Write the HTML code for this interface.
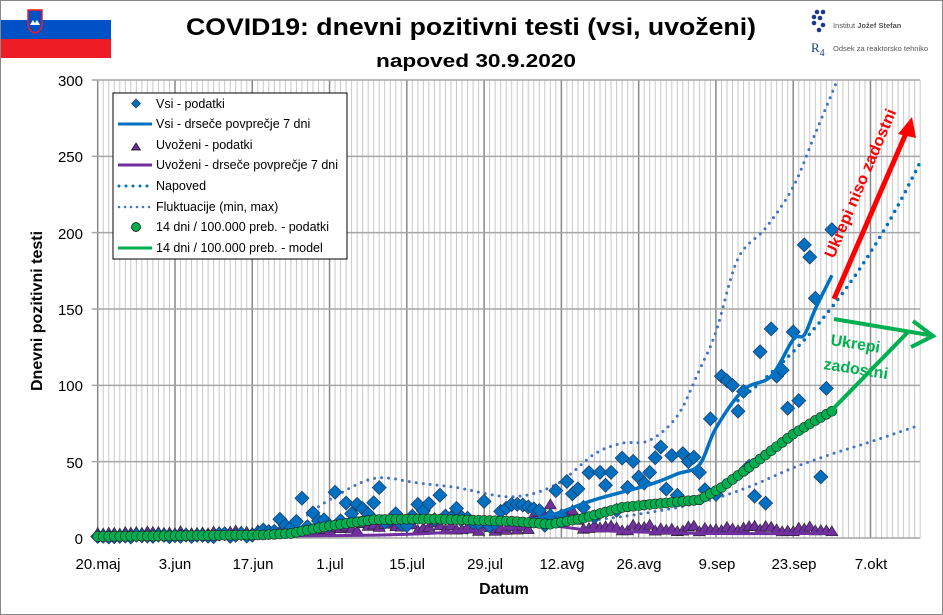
<!DOCTYPE html>
<html><head><meta charset="utf-8"><style>
body{margin:0;background:#fff}
#c{position:relative;width:943px;height:615px;overflow:hidden;font-family:"Liberation Sans",sans-serif;box-sizing:border-box;border:1px solid #888}
</style></head><body><div id="c">
<svg id="s" width="943" height="615" xmlns="http://www.w3.org/2000/svg" style="position:absolute;left:0;top:0">
<g id="grid"></g>
<g id="series"></g>
<!-- flag -->
<rect x="0" y="0" width="110" height="19" fill="#fff"/>
<rect x="0" y="19" width="110" height="19" fill="#0051c6"/>
<rect x="0" y="38" width="110" height="19" fill="#ee1c25"/>
<path d="M27 9 h14 v14 q0 7 -7 9 q-7 -2 -7 -9z" fill="#0051c6" stroke="#ee1c25" stroke-width="1.5"/>
<path d="M29 24 l3 -5 l2 3 l2 -3 l3 5z" fill="#fff"/>
<text x="470" y="34" text-anchor="middle" font-size="24" font-weight="bold" textLength="570" lengthAdjust="spacingAndGlyphs">COVID19: dnevni pozitivni testi (vsi, uvoženi)</text>
<text x="475" y="66" text-anchor="middle" font-size="18" font-weight="bold" textLength="200" lengthAdjust="spacingAndGlyphs">napoved 30.9.2020</text>
<!-- logos -->
<g fill="#1b3a8c"><circle cx="816" cy="11" r="2.3"/><circle cx="822" cy="11" r="2.3"/><circle cx="813" cy="16" r="2.3"/><circle cx="819" cy="17" r="2.3"/><circle cx="813" cy="22" r="2.3"/><circle cx="822" cy="24" r="2.3"/><circle cx="818" cy="29" r="2.3"/></g>
<text x="832" y="27" font-size="7.5" fill="#555">Institut <tspan font-weight="bold">Jožef Stefan</tspan></text>
<text x="810" y="51" font-size="13" fill="#1b3a8c" font-family="Liberation Serif,serif">R<tspan font-size="10" dy="4">4</tspan></text>
<text x="832" y="50" font-size="7.5" fill="#555">Odsek za reaktorsko tehniko</text>
<!-- axis labels -->
<text transform="translate(41,310) rotate(-90)" text-anchor="middle" font-size="16" font-weight="bold">Dnevni pozitivni  testi</text>
<text x="503" y="593" text-anchor="middle" font-size="16" font-weight="bold">Datum</text>
<g font-size="15" text-anchor="end">
<text x="82" y="85">300</text><text x="82" y="161">250</text><text x="82" y="238">200</text><text x="82" y="314">150</text><text x="82" y="390">100</text><text x="82" y="467">50</text><text x="82" y="543">0</text></g>
<g font-size="15" text-anchor="middle">
<text x="97" y="568">20.maj</text><text x="174" y="568">3.jun</text><text x="252" y="568">17.jun</text><text x="329" y="568">1.jul</text><text x="406" y="568">15.jul</text><text x="484" y="568">29.jul</text><text x="561" y="568">12.avg</text><text x="638" y="568">26.avg</text><text x="716" y="568">9.sep</text><text x="793" y="568">23.sep</text><text x="870" y="568">7.okt</text></g>
<!-- arrows -->
<g stroke="#ff0000" stroke-width="5" fill="#ff0000"><line x1="833" y1="298" x2="906" y2="130"/></g>
<path d="M911 116 L897 133 L915 137z" fill="#ff0000"/>
<text transform="translate(833,258) rotate(-67)" font-size="16" font-weight="bold" fill="#ff0000" textLength="160" lengthAdjust="spacingAndGlyphs">Ukrepi niso zadostni</text>
<g stroke="#00b050" stroke-width="4" fill="none"><line x1="830" y1="410" x2="908" y2="330"/><line x1="833" y1="318" x2="928" y2="334"/><path d="M912 320 L932 335 L910 346"/></g>
<text transform="translate(829,344) rotate(9)" font-size="16" font-weight="bold" fill="#00b050">Ukrepi</text>
<text transform="translate(822,368) rotate(9)" font-size="16" font-weight="bold" fill="#00b050">zadostni</text>
<!-- legend -->
<rect x="112" y="92" width="234" height="166" fill="#fff" stroke="#000" stroke-width="1"/>
<g font-size="12.5">
<path d="M135 95 l4.5 4.5 l-4.5 4.5 l-4.5 -4.5z" transform="translate(0,3)" fill="#0070c0" stroke="#1f3864" stroke-width="0.7"/>
<text x="155" y="107">Vsi - podatki</text>
<line x1="117" y1="123" x2="151" y2="123" stroke="#0070c0" stroke-width="3"/>
<text x="155" y="127">Vsi - drseče povprečje 7 dni</text>
<path d="M135 142 l4.5 7 h-9z" fill="#7030a0" stroke="#000" stroke-width="0.7"/>
<text x="155" y="148">Uvoženi - podatki</text>
<line x1="117" y1="164" x2="151" y2="164" stroke="#7030a0" stroke-width="3"/>
<text x="155" y="168">Uvoženi - drseče povprečje 7 dni</text>
<line x1="118" y1="185" x2="151" y2="185" stroke="#0070c0" stroke-width="3" stroke-dasharray="0 7" stroke-linecap="round"/>
<text x="155" y="189">Napoved</text>
<line x1="118" y1="206" x2="151" y2="206" stroke="#4472c4" stroke-width="2.5" stroke-dasharray="0 6" stroke-linecap="round"/>
<text x="155" y="210">Fluktuacije (min, max)</text>
<circle cx="135" cy="226" r="4.5" fill="#00b050" stroke="#000" stroke-width="0.7"/>
<text x="155" y="230">14 dni / 100.000 preb. - podatki</text>
<line x1="117" y1="247" x2="151" y2="247" stroke="#00b050" stroke-width="3"/>
<text x="155" y="251">14 dni / 100.000 preb. - model</text>
</g>
</svg>
<script>
var NS="http://www.w3.org/2000/svg";
function X(d){return 96.7+d*5.52}function Y(v){return 537-v*1.5267}
function el(p,t,a){var e=document.createElementNS(NS,t);for(var k in a)e.setAttribute(k,a[k]);p.appendChild(e);return e}
var g=document.getElementById('grid'),s=document.getElementById('series');
for(var d=0;d<=149;d++){el(g,'line',{x1:X(d),x2:X(d),y1:79,y2:537,stroke:d%14==0?'#888':'#c8c8c8','stroke-width':d%14==0?1.5:1})}
for(var v=0;v<=300;v+=50){el(g,'line',{x1:X(0)-6,x2:X(149),y1:Y(v),y2:Y(v),stroke:'#a6a6a6','stroke-width':1.5})}
function interp(pts,d){for(var i=0;i<pts.length-1;i++){if(d>=pts[i][0]&&d<=pts[i+1][0]){var t=(d-pts[i][0])/(pts[i+1][0]-pts[i][0]);return pts[i][1]+t*(pts[i+1][1]-pts[i][1])}}return pts[pts.length-1][1]}
// smooth catmull-rom path through control points
function path(pts,from,to){var P=pts.filter(function(p){return p[0]>=from&&p[0]<=to}).map(function(p){return [X(p[0]),Y(p[1])]});
 if(pts[0][0]<from)P.unshift([X(from),Y(interp(pts,from))]);
 if(pts[pts.length-1][0]>to)P.push([X(to),Y(interp(pts,to))]);
 var a='M'+P[0][0].toFixed(1)+' '+P[0][1].toFixed(1);
 for(var i=0;i<P.length-1;i++){var p0=P[i-1]||P[i],p1=P[i],p2=P[i+1],p3=P[i+2]||p2;
  var c1=[p1[0]+(p2[0]-p0[0])/6,p1[1]+(p2[1]-p0[1])/6],c2=[p2[0]-(p3[0]-p1[0])/6,p2[1]-(p3[1]-p1[1])/6];
  a+='C'+c1[0].toFixed(1)+' '+c1[1].toFixed(1)+' '+c2[0].toFixed(1)+' '+c2[1].toFixed(1)+' '+p2[0].toFixed(1)+' '+p2[1].toFixed(1)}
 return a}
var seed=7;function rnd(){seed=(seed*9301+49297)%233280;return seed/233280}
var up=[[38,15],[42,25],[50,39],[58,36],[65,33],[75,27],[83,35],[90,55],[95,62],[100,64],[105,80],[109,110],[112,135],[116,183],[121,203],[126,230],[130,265],[134,300]];
var lo=[[38,3],[45,8],[55,12],[65,9],[75,6],[85,10],[95,14],[105,20],[112,26],[119,35],[126,46],[133,55],[140,63],[149,74]];
el(s,'path',{d:path(up,38,134),fill:'none',stroke:'#4472c4','stroke-width':3,'stroke-dasharray':'0 7','stroke-linecap':'round'});
el(s,'path',{d:path(lo,38,149),fill:'none',stroke:'#4472c4','stroke-width':3,'stroke-dasharray':'0 7','stroke-linecap':'round'});
var np=[];for(var d=116;d<=149;d+=3)np.push([d,153*Math.exp(0.0305*(d-133.4))]);
el(s,'path',{d:path(np,116,149),fill:'none',stroke:'#0070c0','stroke-width':3.5,'stroke-dasharray':'0 7.5','stroke-linecap':'round'});
var vs=[];for(var d=0;d<=133;d++){var b=interp([[0,1],[28,2],[33,8],[42,15],[50,18],[60,15],[72,13],[82,18],[90,30],[100,38],[104,45]],d);vs.push(Math.max(0,b+(rnd()-0.5)*b*1.1))}
var late={111:78,113:106,114:103,115:100,116:83,117:96,118:47,120:122,122:137,123:106,124:110,125:85,126:135,127:90,128:192,129:184,130:157,131:40,132:98,133:202,104:54,107:50,109:43,100:43,93:43,91:43,85:37,83:31,70:24,62:28,58:22,51:33,43:30,37:26,47:22};
for(var k in late)vs[k]=late[k];
var trg=[];for(var d=0;d<=133;d++){var b=interp([[0,1],[40,2],[50,5],[78,4],[80,12],[84,14],[88,6],[100,4],[133,3]],d);trg.push(Math.max(0,b+(rnd()-0.4)*b*1.2))}
for(var d=0;d<=133;d++){var x=X(d),y=Y(trg[d]);el(s,'path',{d:'M'+x+' '+(y-9)+'L'+(x+6)+' '+(y+1)+'L'+(x-6)+' '+(y+1)+'z',fill:'#7030a0',stroke:'#222','stroke-width':0.6})}
el(s,'path',{d:path([[0,1],[40,1.5],[60,3],[80,8],[90,5],[110,3],[133,3]],0,133),fill:'none',stroke:'#7030a0','stroke-width':3});
for(var d=0;d<=133;d++){var x=X(d),y=Y(vs[d]);el(s,'path',{d:'M'+x+' '+(y-7)+'L'+(x+7)+' '+y+'L'+x+' '+(y+7)+'L'+(x-7)+' '+y+'z',fill:'#0070c0',stroke:'#1f3864','stroke-width':0.7})}
var avg=[[0,1],[28,2],[35,6],[42,10],[50,14],[60,14],[70,12],[80,13],[90,25],[100,35],[105,42],[109,48],[112,72],[117,97],[122,106],[126,130],[128,133],[130,150],[133,172]];
el(s,'path',{d:path(avg,0,133),fill:'none',stroke:'#0070c0','stroke-width':3.5});
var gr=[[0,1],[30,2],[35,3],[42,8],[50,12],[60,12.5],[75,11],[82,9],[88,13],[95,20],[100,22],[109,25],[113,33],[119,49],[126,68],[130,77],[133,83]];
el(s,'path',{d:path(gr,0,133),fill:'none',stroke:'#00b050','stroke-width':3});
for(var d=0;d<=133;d++){el(s,'circle',{cx:X(d),cy:Y(interp(gr,d)),r:5,fill:'#00b050',stroke:'#222','stroke-width':0.6})}
</script>
</div></body></html>
